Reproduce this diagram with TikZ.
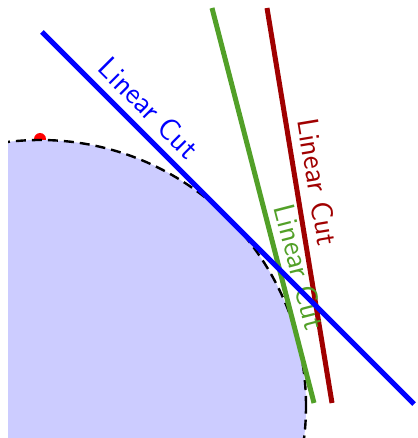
\documentclass[tikz,border=0pt]{standalone}
\usepackage{tikz}
\usetikzlibrary{arrows.meta,calc,positioning}
\definecolor{cutgreen}{RGB}{82,160,40}
\definecolor{cutred}{RGB}{160,0,0}

\begin{document}
\begin{tikzpicture}[x=0.5pt, y=-0.5pt, font=\sffamily\fontsize{15}{18}\selectfont,
    cut/.style={line width=2.5pt}]
  \useasboundingbox (0,0) rectangle (417,438);
  % marked point on top of the disk
  \node[circle,fill=red,inner sep=0pt,minimum size=6pt] (top) at (40,139) {};
  % feasible disk, dashed boundary
  \coordinate (ctr) at (40,406);
  \begin{scope}
    \clip (8,0) rectangle (417,438);
    \fill[blue!20] (ctr) circle[radius=133pt];
    \draw[line width=1.2pt, dash pattern=on 5pt off 3pt] (ctr) circle[radius=133pt];
  \end{scope}
  % red cut
  \coordinate (r1) at (267,8);
  \coordinate (r2) at (332,403);
  \draw[cut,cutred] (r1) -- (r2);
  \node[cutred,rotate=-80.5] (redcut) at (318,182) {Linear Cut};
  % green cut
  \coordinate (g1) at (212,8);
  \coordinate (g2) at (314,403);
  \draw[cut,cutgreen] (g1) -- (g2);
  \node[cutgreen,rotate=-75.5] (greencut) at (300,267) {Linear Cut};
  % blue cut, tangent to the disk
  \coordinate (b1) at (42,32);
  \coordinate (b2) at (414,404);
  \draw[cut,blue] (b1) -- (b2);
  \node[blue,rotate=-45] (bluecut) at (149,108) {Linear Cut};
\end{tikzpicture}
\end{document}
